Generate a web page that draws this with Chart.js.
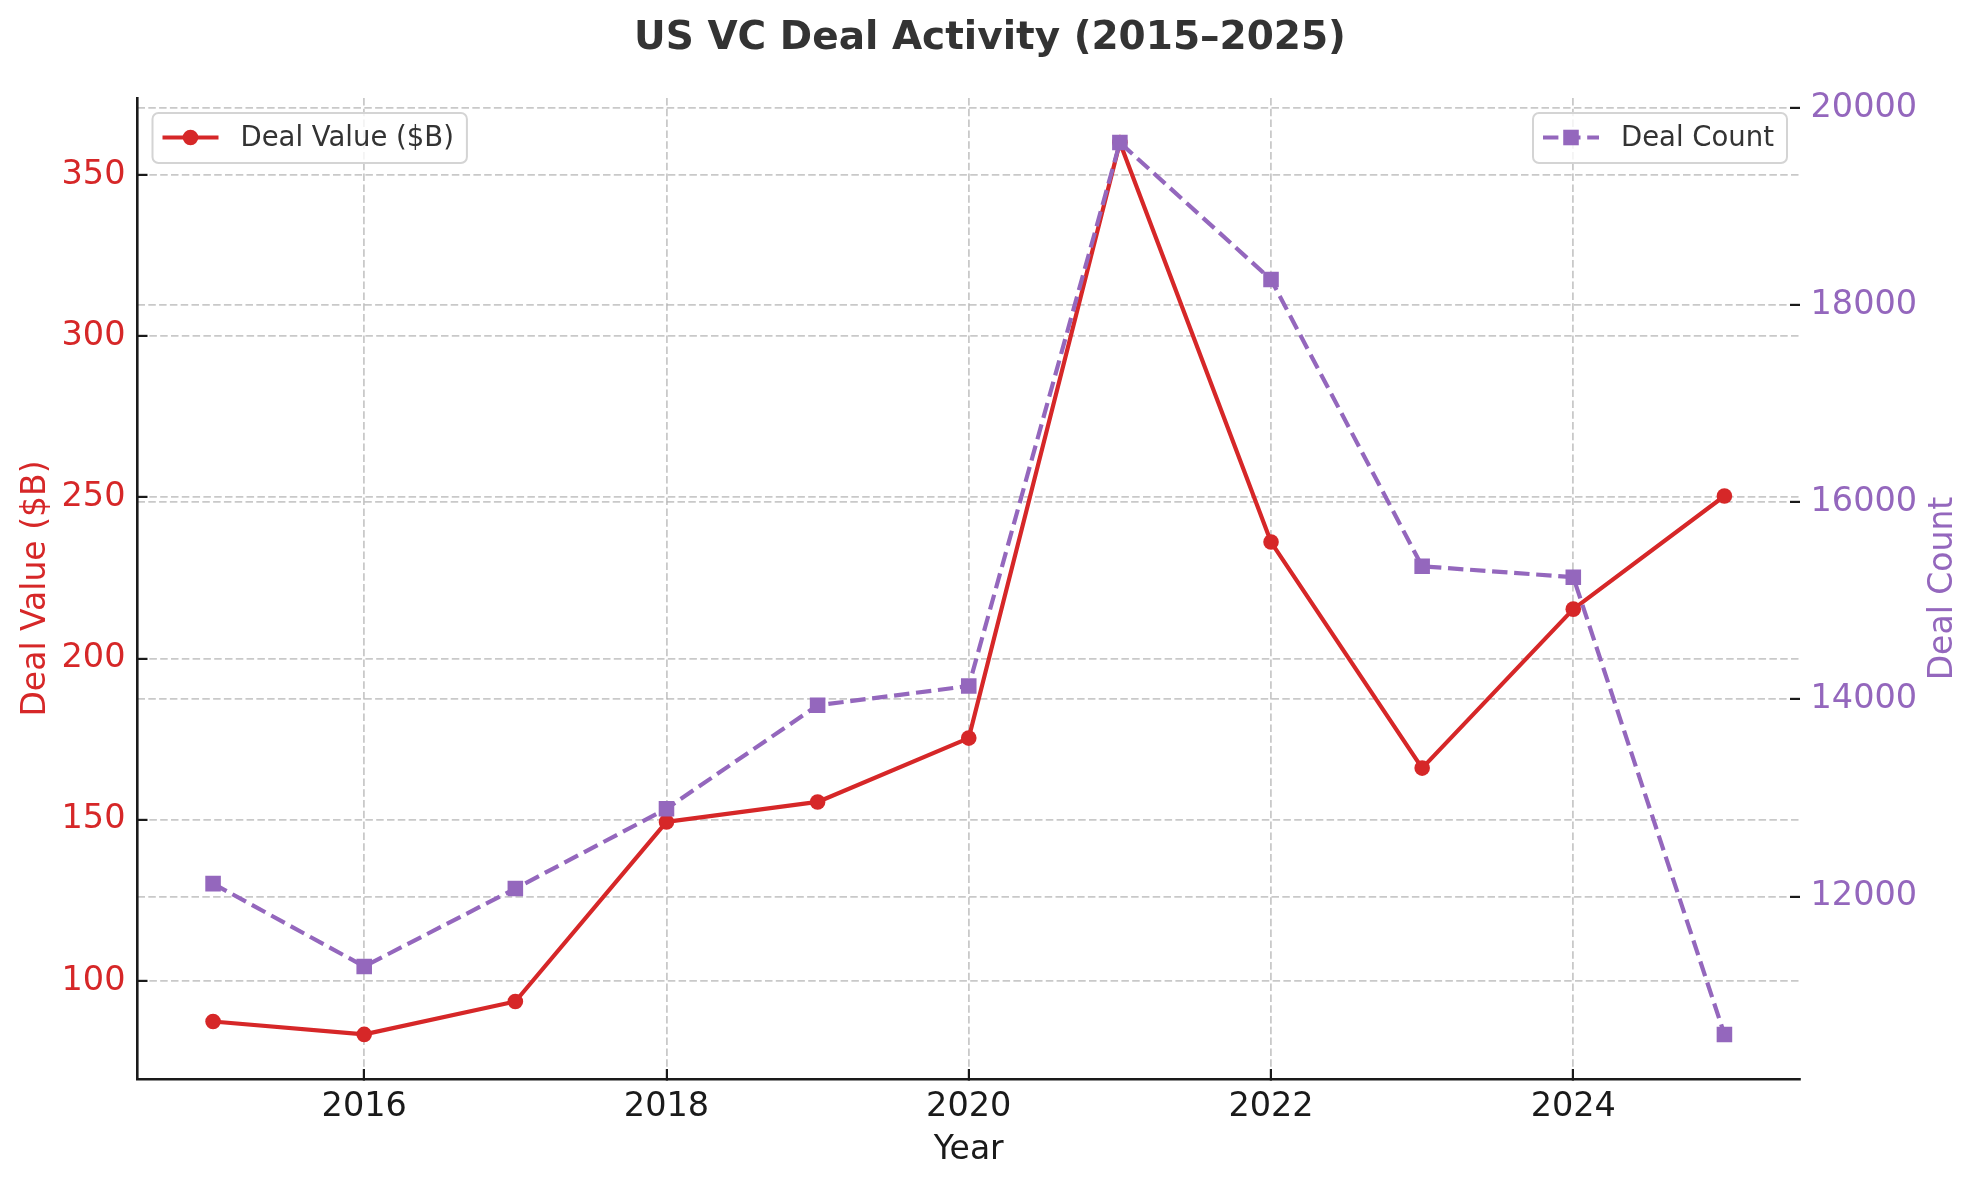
<!DOCTYPE html>
<html>
<head>
<meta charset="utf-8">
<script src="https://cdn.jsdelivr.net/npm/chart.js@4.4.1/dist/chart.umd.min.js"></script>
<style>
  html, body { margin: 0; padding: 0; background: #ffffff; }
  #wrap { width: 1980px; height: 1186px; }
</style>
</head>
<body>
<div id="wrap"><canvas id="c" width="1980" height="1186"></canvas></div>
<script>
const chartTitle = 'US VC Deal Activity (2015–2025)';
const years = [2015, 2016, 2017, 2018, 2019, 2020, 2021, 2022, 2023, 2024, 2025];
const dealValue = [87.4, 83.4, 93.6, 149.3, 155.5, 175.3, 360.0, 236.1, 166.0, 215.3, 250.4];
const dealCount = [12130, 11290, 12080, 12890, 13940, 14135, 19650, 18260, 15350, 15240, 10600];
const xTicks = [2016, 2018, 2020, 2022, 2024];
const valueTicks = [100, 150, 200, 250, 300, 350];
const countTicks = [12000, 14000, 16000, 18000, 20000];
const seriesNames = ['Deal Value ($B)', 'Deal Count'];
const xTitle = 'Year';
const yTitle = 'Deal Value ($B)';
const y1Title = 'Deal Count';

const RED = '#d62728';
const PURPLE = '#9467bd';
const INK = '#1a1a1a';
const GRID = 'rgba(176,176,176,0.68)';
const GRID_DASH = [7.5, 3.3];
const FONT = "'DejaVu Sans'";
const TICK_SIZE = 33.5;

function padRange(arr, f) {
  const mn = Math.min(...arr), mx = Math.max(...arr);
  const d = (mx - mn) * f;
  return [mn - d, mx + d];
}
const xRange = padRange(years, 0.05);
const vRange = padRange(dealValue, 0.05);
const cRange = padRange(dealCount, 0.05);

Chart.defaults.font.family = FONT;

function drawLegend(ctx, ds, x, y, anchor) {
  ctx.save();
  ctx.font = '27.5px ' + FONT;
  const tw = ctx.measureText(ds.label).width;
  const h = 50, lineStart = 10, lineLen = 56, gap = 22, padR = 13;
  const w = lineStart + lineLen + gap + tw + padR;
  const bx = anchor === 'left' ? x : x - w;
  ctx.beginPath();
  ctx.roundRect(bx, y, w, h, 6);
  ctx.fillStyle = 'rgba(255,255,255,0.8)';
  ctx.fill();
  ctx.lineWidth = 2;
  ctx.strokeStyle = '#d4d4d4';
  ctx.stroke();
  const cy = y + 24.5;
  ctx.beginPath();
  ctx.setLineDash(ds.borderDash || []);
  ctx.lineWidth = ds.borderWidth;
  ctx.strokeStyle = ds.borderColor;
  ctx.moveTo(bx + lineStart, cy);
  ctx.lineTo(bx + lineStart + lineLen, cy);
  ctx.stroke();
  ctx.setLineDash([]);
  const mx = bx + lineStart + lineLen / 2;
  ctx.fillStyle = ds.pointBackgroundColor;
  if (ds.pointStyle === 'rect') {
    const s = ds.pointRadius * Math.SQRT1_2;
    ctx.fillRect(mx - s, cy - s, 2 * s, 2 * s);
  } else {
    ctx.beginPath();
    ctx.arc(mx, cy, ds.pointRadius, 0, 2 * Math.PI);
    ctx.fill();
  }
  ctx.fillStyle = '#333333';
  ctx.textAlign = 'left';
  ctx.textBaseline = 'middle';
  ctx.fillText(ds.label, bx + lineStart + lineLen + gap, cy + 1);
  ctx.restore();
}

const decor = {
  id: 'decor',
  afterDraw(chart) {
    const ctx = chart.ctx;
    const a = chart.chartArea;
    ctx.save();
    ctx.fillStyle = PURPLE;
    ctx.font = '33px ' + FONT;
    ctx.textAlign = 'center';
    ctx.textBaseline = 'middle';
    ctx.translate(a.right + 143, (a.top + a.bottom) / 2);
    ctx.rotate(-Math.PI / 2);
    ctx.fillText(y1Title, 0, 0);
    ctx.restore();
    const ds = chart.data.datasets;
    drawLegend(ctx, ds[0], a.left + 15, a.top + 15, 'left');
    drawLegend(ctx, ds[1], a.right - 13, a.top + 15, 'right');
  }
};

new Chart(document.getElementById('c'), {
  type: 'line',
  data: {
    datasets: [
      {
        label: seriesNames[0],
        data: years.map((x, i) => ({ x: x, y: dealValue[i] })),
        yAxisID: 'y',
        borderColor: RED,
        backgroundColor: RED,
        pointBackgroundColor: RED,
        pointBorderColor: RED,
        pointBorderWidth: 0,
        pointRadius: 7.8,
        pointHoverRadius: 7.8,
        pointStyle: 'circle',
        borderWidth: 4.2,
        borderJoinStyle: 'round',
        tension: 0,
        fill: false,
        order: 2
      },
      {
        label: seriesNames[1],
        data: years.map((x, i) => ({ x: x, y: dealCount[i] })),
        yAxisID: 'y1',
        borderColor: PURPLE,
        backgroundColor: PURPLE,
        pointBackgroundColor: PURPLE,
        pointBorderColor: PURPLE,
        pointBorderWidth: 0,
        pointRadius: 11,
        pointHoverRadius: 11,
        pointStyle: 'rect',
        borderWidth: 4.2,
        borderDash: [15.4, 6.7],
        borderJoinStyle: 'round',
        tension: 0,
        fill: false,
        order: 1
      }
    ]
  },
  options: {
    responsive: false,
    animation: false,
    devicePixelRatio: 1,
    layout: { padding: 0 },
    events: [],
    plugins: {
      legend: { display: false },
      tooltip: { enabled: false },
      title: {
        display: true,
        text: chartTitle,
        color: '#333333',
        font: { family: FONT, size: 39, weight: 'bold', lineHeight: 1.2 },
        padding: { top: 15, bottom: 36.2 }
      }
    },
    scales: {
      x: {
        type: 'linear',
        position: 'bottom',
        min: xRange[0],
        max: xRange[1],
        afterBuildTicks: s => { s.ticks = xTicks.map(v => ({ value: v })); },
        afterFit: s => { s.height = 107; },
        ticks: {
          color: INK,
          font: { size: TICK_SIZE, lineHeight: 1.2 },
          padding: 18,
          maxRotation: 0,
          autoSkip: false,
          callback: v => String(v)
        },
        grid: { color: GRID, lineWidth: 1.8, drawTicks: true, tickLength: -10, tickColor: INK, tickWidth: 2.2 },
        border: { display: true, color: INK, width: 2.6, dash: GRID_DASH },
        title: { display: true, text: xTitle, color: INK, font: { size: 33, lineHeight: 1.2 }, padding: { top: 0, bottom: 16 } }
      },
      y: {
        type: 'linear',
        position: 'left',
        min: vRange[0],
        max: vRange[1],
        afterBuildTicks: s => { s.ticks = valueTicks.map(v => ({ value: v })); },
        afterFit: s => { s.width = 137.5; },
        ticks: {
          color: RED,
          font: { size: TICK_SIZE, lineHeight: 1.2 },
          padding: 22,
          callback: v => String(v)
        },
        grid: { color: GRID, lineWidth: 1.8, drawTicks: true, tickLength: -10, tickColor: INK, tickWidth: 2.2 },
        border: { display: true, color: INK, width: 2.6, dash: GRID_DASH },
        title: { display: true, text: yTitle, color: RED, font: { size: 33, lineHeight: 1.2 }, padding: { top: 16.5, bottom: 0 } }
      },
      y1: {
        type: 'linear',
        position: 'right',
        min: cRange[0],
        max: cRange[1],
        afterBuildTicks: s => { s.ticks = countTicks.map(v => ({ value: v })); },
        afterFit: s => { s.width = 180; },
        ticks: {
          color: PURPLE,
          font: { size: TICK_SIZE, lineHeight: 1.2 },
          padding: 20.5,
          callback: v => String(v)
        },
        grid: { color: GRID, lineWidth: 1.8, drawTicks: true, tickLength: -10, tickColor: INK, tickWidth: 2.2, drawOnChartArea: true },
        border: { display: false, dash: GRID_DASH },
        title: { display: false }
      }
    }
  },
  plugins: [decor]
});
</script>
</body>
</html>
